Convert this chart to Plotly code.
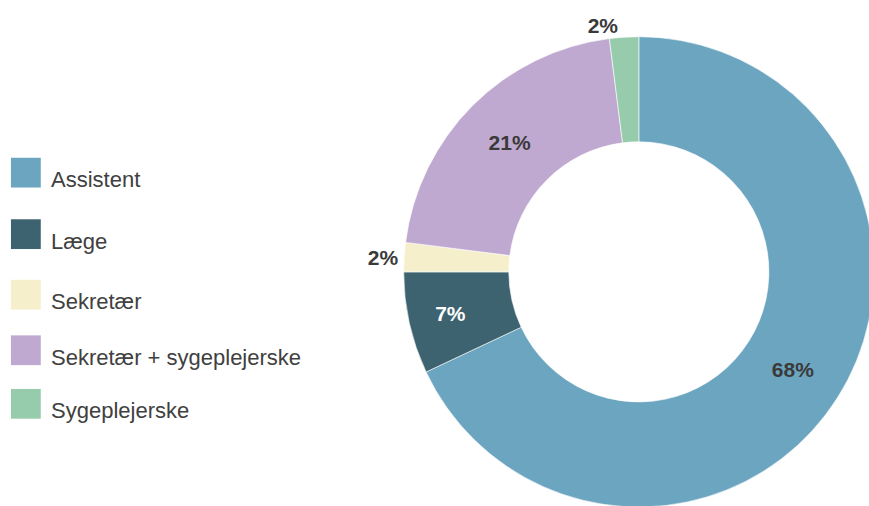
import plotly.graph_objects as go

labels = ["Assistent", "Læge", "Sekretær", "Sekretær + sygeplejerske", "Sygeplejerske"]
values = [68, 7, 2, 21, 2]
colors = ["#6CA5C0", "#3E6370", "#F6EFCB", "#BFA9D0", "#96CCAC"]
text_colors = ["#3a3a3a", "#ffffff", "#3a3a3a", "#3a3a3a", "#3a3a3a"]
text_positions = ["inside", "inside", "outside", "inside", "outside"]

# canvas slightly larger than the 869x506 view so the donut is clipped at right/bottom like the reference
W, H = 880, 512
FONT = "Liberation Sans, Arial, sans-serif"

# donut box in pixels
cx, cy, R = 642.5, 274, 237

fig = go.Figure(go.Pie(
    labels=labels,
    values=values,
    sort=False,
    direction="clockwise",
    rotation=0,
    hole=0.553,
    marker=dict(colors=colors, line=dict(color="white", width=0.6)),
    texttemplate="%{value}%",
    textposition=text_positions,
    insidetextorientation="horizontal",
    insidetextfont=dict(color=text_colors, size=21, family=FONT, weight="bold"),
    outsidetextfont=dict(color="#3a3a3a", size=21, family=FONT, weight="bold"),
    domain=dict(x=[(cx - R) / W, min(1.0, (cx + R) / W)],
                y=[max(0.0, 1 - (cy + R) / H), 1 - (cy - R) / H]),
    showlegend=False,
    hoverinfo="label+percent",
))

# custom legend (large squares, as in the reference)
legend_tops = [159, 221, 282, 338, 392]
sq = 30
for lab, col, top in zip(labels, colors, legend_tops):
    fig.add_shape(type="rect", xref="paper", yref="paper",
                  x0=11 / W, x1=(11 + sq) / W,
                  y0=1 - (top + sq) / H, y1=1 - top / H,
                  fillcolor=col, line=dict(width=0))
    fig.add_annotation(xref="paper", yref="paper", x=49 / W, y=1 - (top + 22) / H,
                       text=lab, showarrow=False, xanchor="left", yanchor="middle",
                       font=dict(size=22, color="#404040", family=FONT))

fig.update_layout(
    width=W, height=H,
    margin=dict(l=0, r=0, t=0, b=0),
    paper_bgcolor="white",
    plot_bgcolor="white",
    font=dict(family=FONT),
)

fig.write_html(
    "out.html",
    config={"displayModeBar": False},
    post_script="document.body.style.margin='0';document.body.style.overflow='hidden';"
                "document.documentElement.style.overflow='hidden';",
)
